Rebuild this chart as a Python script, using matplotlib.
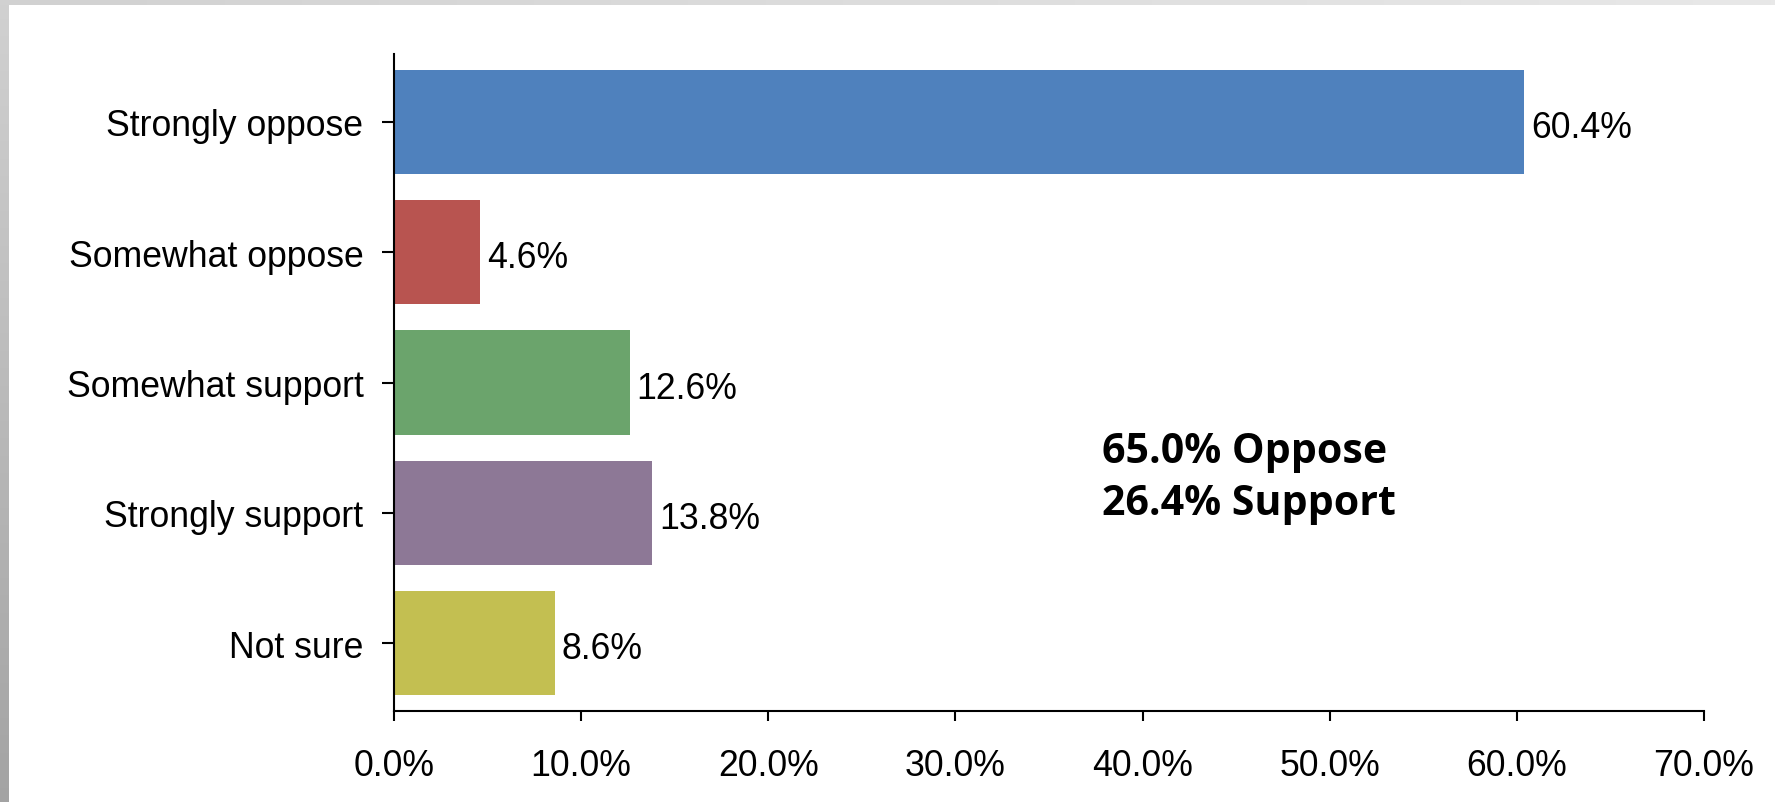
import numpy as np
import matplotlib
matplotlib.use("Agg")
import matplotlib.pyplot as plt
from matplotlib.ticker import FuncFormatter

categories = ["Strongly oppose", "Somewhat oppose", "Somewhat support", "Strongly support", "Not sure"]
values = [60.4, 4.6, 12.6, 13.8, 8.6]
colors = ["#4F81BD", "#B85450", "#6BA46C", "#8D7896", "#C3BF51"]
xticks = [0, 10, 20, 30, 40, 50, 60, 70]
summary_lines = ["65.0% Oppose", "26.4% Support"]

W, H, DPI = 1775, 803, 100
fig = plt.figure(figsize=(W / DPI, H / DPI), dpi=DPI)
fig.patch.set_facecolor("white")

# background frame: gray gradient strip on the left, light strip on top
bg = fig.add_axes([0, 0, 1, 1], zorder=-10)
img = np.ones((H, W, 3))
left_w, top_h = 9, 6
grad = np.linspace(0.82, 0.64, H)[:, None]
img[:, :left_w, :] = grad[:, :, None]
topgrad = np.linspace(0.82, 0.91, W)[None, :]
img[:top_h, :, :] = topgrad[:, :, None]
bg.imshow(img, aspect="auto", extent=[0, 1, 0, 1], interpolation="bilinear")
bg.set_axis_off()

x0, x1 = 394 / W, 1704 / W
y0, y1 = 1 - 712 / H, 1 - 55 / H
ax = fig.add_axes([x0, y0, x1 - x0, y1 - y0])
ax.set_facecolor("none")

ypos = np.arange(len(categories))
ax.barh(ypos, values, height=0.8, color=colors, zorder=2)
ax.set_ylim(len(categories) - 1 + 0.522, -0.522)
ax.set_xlim(0, 70)
ax.set_xticks(xticks)
ax.xaxis.set_major_formatter(FuncFormatter(lambda v, p: f"{v:.1f}%"))
ax.set_yticks(ypos)
ax.set_yticklabels(categories)

font = "Liberation Sans"
fs = 25.7
for lab in ax.get_xticklabels() + ax.get_yticklabels():
    lab.set_fontfamily(font)
    lab.set_fontsize(fs)

ax.tick_params(axis="x", length=7.5, width=1.5, pad=19, direction="out")
ax.tick_params(axis="y", length=9, width=1.5, pad=13, direction="out")
for s in ["top", "right"]:
    ax.spines[s].set_visible(False)
for s in ["left", "bottom"]:
    ax.spines[s].set_linewidth(1.5)

for y, v in zip(ypos, values):
    ax.annotate(f"{v:.1f}%", (v, y), xytext=(5, -4), textcoords="offset points",
                ha="left", va="center", fontsize=fs, fontfamily=font)

ax.text(1102 / W, 1 - 463 / H, summary_lines[0], transform=fig.transFigure,
        fontsize=29.6, fontweight="bold", fontfamily="Open Sans", ha="left", va="baseline")
ax.text(1102 / W, 1 - 515 / H, summary_lines[1], transform=fig.transFigure,
        fontsize=29.6, fontweight="bold", fontfamily="Open Sans", ha="left", va="baseline")

fig.savefig("out.png", dpi=DPI)
